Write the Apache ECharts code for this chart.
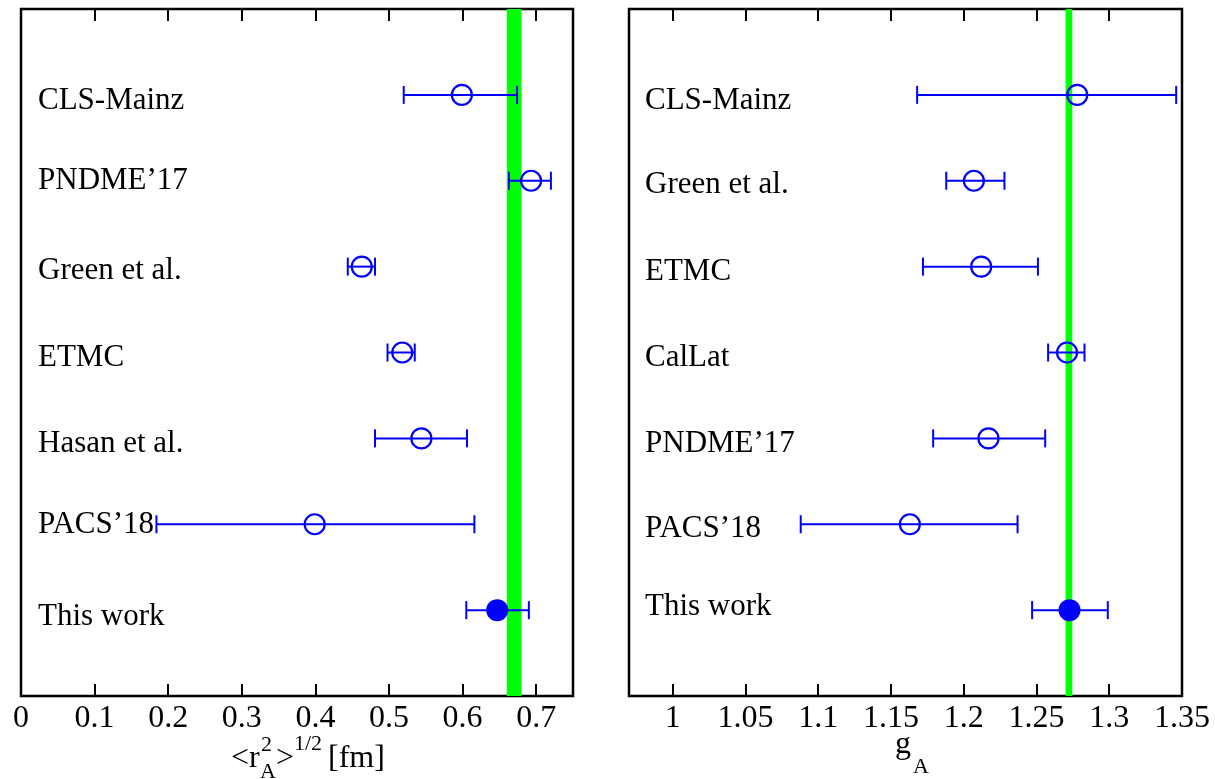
<!DOCTYPE html>
<html><head><meta charset="utf-8">
<script src="https://cdn.jsdelivr.net/npm/echarts@6/dist/echarts.min.js"></script>
<style>html,body{margin:0;padding:0;background:#fff}#c{width:1215px;height:779px}</style>
</head><body><div id="c"></div>
<script>
// ---------- data ----------
const rowPos = [7, 6, 5, 4, 3, 2, 1];

const leftNames = ['CLS-Mainz', 'PNDME\u201917', 'Green et al.', 'ETMC', 'Hasan et al.', 'PACS\u201918', 'This work'];
const leftVal   = [0.599, 0.693, 0.463, 0.518, 0.544, 0.399, 0.647];
const leftLo    = [0.520, 0.663, 0.444, 0.498, 0.481, 0.184, 0.605];
const leftHi    = [0.674, 0.720, 0.481, 0.535, 0.606, 0.616, 0.690];
const leftBand  = [0.66, 0.68];
const leftTicks = [0, 0.1, 0.2, 0.3, 0.4, 0.5, 0.6, 0.7];
const leftRange = [0, 0.75];

const rightNames = ['CLS-Mainz', 'Green et al.', 'ETMC', 'CalLat', 'PNDME\u201917', 'PACS\u201918', 'This work'];
const rightVal   = [1.278, 1.207, 1.212, 1.271, 1.217, 1.163, 1.2727];
const rightLo    = [1.168, 1.188, 1.172, 1.258, 1.179, 1.088, 1.247];
const rightHi    = [1.346, 1.228, 1.251, 1.283, 1.256, 1.237, 1.299];
const rightBand  = [1.2700, 1.2746];
const rightTicks = [1, 1.05, 1.1, 1.15, 1.2, 1.25, 1.3, 1.35];
const rightRange = [0.97, 1.35];

const filledName = 'This work';
const yRange = [0, 8];

// ---------- layout / style constants ----------
const FONT = "'Liberation Serif', 'Times New Roman', serif";
const BLUE = '#0000ff';
const GREEN = '#00ff00';
const leftLabelNudge  = [6, 0, 4, 5, 5, 1, 7];   // pixel nudges of row labels
const rightLabelNudge = [6, 4, 5, 5, 5, 5, -3];

const chart = echarts.init(document.getElementById('c'), null, {renderer: 'canvas'});

function xAxes(gridIndex, range, ticks, fmt) {
  const base = {
    type: 'value', gridIndex, min: range[0], max: range[1],
    splitLine: {show: false}, axisLine: {show: false}
  };
  return [
    Object.assign({}, base, {
      position: 'bottom',
      axisTick: {show: true, inside: true, length: 12, customValues: ticks, lineStyle: {color: '#000', width: 2}},
      axisLabel: {show: true, customValues: ticks, color: '#000', fontFamily: FONT, fontSize: 32, margin: 7, formatter: fmt}
    }),
    Object.assign({}, base, {
      position: 'top',
      axisTick: {show: true, inside: true, length: 12, customValues: ticks, lineStyle: {color: '#000', width: 2}},
      axisLabel: {show: false}
    })
  ];
}

function yAxis(gridIndex) {
  return {type: 'value', gridIndex, min: yRange[0], max: yRange[1],
    axisLine: {show: false}, axisTick: {show: false}, axisLabel: {show: false}, splitLine: {show: false}};
}

function errRender(params, api) {
  const y = api.value(2);
  const p1 = api.coord([api.value(0), y]);
  const p2 = api.coord([api.value(1), y]);
  const h = 9;
  const st = {stroke: BLUE, lineWidth: 2, fill: null};
  return {type: 'group', children: [
    {type: 'line', shape: {x1: p1[0], y1: p1[1], x2: p2[0], y2: p2[1]}, style: st},
    {type: 'line', shape: {x1: p1[0], y1: p1[1] - h, x2: p1[0], y2: p1[1] + h}, style: st},
    {type: 'line', shape: {x1: p2[0], y1: p2[1] - h, x2: p2[0], y2: p2[1] + h}, style: st}
  ]};
}

function bandRender(params, api) {
  const a = api.coord([api.value(0), api.value(3)]);
  const b = api.coord([api.value(1), api.value(2)]);
  return {type: 'rect', shape: {x: a[0], y: a[1], width: b[0] - a[0], height: b[1] - a[1]}, style: {fill: GREEN}};
}

function makeLabelRender(names, nudge, xMin, dx) {
  return function (params, api) {
    const i = api.value(0);
    const p = api.coord([xMin, api.value(1)]);
    return {type: 'text', x: p[0] + dx, y: p[1] + nudge[i],
      style: {text: names[i], fill: '#000', font: '31px ' + FONT, verticalAlign: 'middle', align: 'left'}};
  };
}

function panelSeries(gi, names, val, lo, hi, band, range, nudge, labelDx) {
  const xi = gi * 2, yi = gi;
  const open = [], filled = [];
  names.forEach((n, i) => (n === filledName ? filled : open).push([val[i], rowPos[i]]));
  return [
    {type: 'custom', xAxisIndex: xi, yAxisIndex: yi, z: 1, silent: true,
      renderItem: bandRender, encode: {x: [0, 1], y: [2, 3]},
      data: [[band[0], band[1], yRange[0], yRange[1]]]},
    {type: 'custom', xAxisIndex: xi, yAxisIndex: yi, z: 2, silent: true,
      renderItem: errRender, encode: {x: [0, 1], y: 2},
      data: names.map((n, i) => [lo[i], hi[i], rowPos[i]])},
    {type: 'scatter', xAxisIndex: xi, yAxisIndex: yi, z: 3, silent: true,
      symbol: 'circle', symbolSize: 20,
      itemStyle: {color: 'rgba(0,0,0,0)', borderColor: BLUE, borderWidth: 2.2, opacity: 1},
      data: open},
    {type: 'scatter', xAxisIndex: xi, yAxisIndex: yi, z: 3, silent: true,
      symbol: 'circle', symbolSize: 22, itemStyle: {color: BLUE, opacity: 1},
      data: filled},
    {type: 'custom', xAxisIndex: xi, yAxisIndex: yi, z: 4, silent: true,
      renderItem: makeLabelRender(names, nudge, range[0], labelDx), encode: {x: -1, y: 1},
      data: names.map((n, i) => [i, rowPos[i]])}
  ];
}

const gridStyle = {show: true, borderColor: '#000', borderWidth: 2.5, backgroundColor: 'transparent', containLabel: false};

const option = {
  backgroundColor: '#fff',
  animation: false,
  grid: [
    Object.assign({left: 21, top: 9, width: 552, height: 687}, gridStyle),
    Object.assign({left: 629, top: 9, width: 553, height: 687}, gridStyle)
  ],
  xAxis: [
    ...xAxes(0, leftRange, leftTicks, v => String(+v.toFixed(1))),
    ...xAxes(1, rightRange, rightTicks, v => String(+v.toFixed(2)))
  ],
  yAxis: [yAxis(0), yAxis(1)],
  series: [
    ...panelSeries(0, leftNames, leftVal, leftLo, leftHi, leftBand, leftRange, leftLabelNudge, 17),
    ...panelSeries(1, rightNames, rightVal, rightLo, rightHi, rightBand, rightRange, rightLabelNudge, 16)
  ],
  graphic: [
    {type: 'text', x: 231, y: 759, style: {text: '<r', font: '32px ' + FONT, fill: '#000', verticalAlign: 'middle'}},
    {type: 'text', x: 261, y: 745, style: {text: '2', font: '22px ' + FONT, fill: '#000', verticalAlign: 'middle'}},
    {type: 'text', x: 260, y: 772, style: {text: 'A', font: '22px ' + FONT, fill: '#000', verticalAlign: 'middle'}},
    {type: 'text', x: 276, y: 759, style: {text: '>', font: '32px ' + FONT, fill: '#000', verticalAlign: 'middle'}},
    {type: 'text', x: 294, y: 744, style: {text: '1/2', font: '22px ' + FONT, fill: '#000', verticalAlign: 'middle'}},
    {type: 'text', x: 320, y: 759, style: {text: ' [fm]', font: '32px ' + FONT, fill: '#000', verticalAlign: 'middle'}},
    {type: 'text', x: 895, y: 745, style: {text: 'g', font: '32px ' + FONT, fill: '#000', verticalAlign: 'middle'}},
    {type: 'text', x: 913, y: 767, style: {text: 'A', font: '22px ' + FONT, fill: '#000', verticalAlign: 'middle'}}
  ]
};
chart.setOption(option);
</script>
</body></html>
